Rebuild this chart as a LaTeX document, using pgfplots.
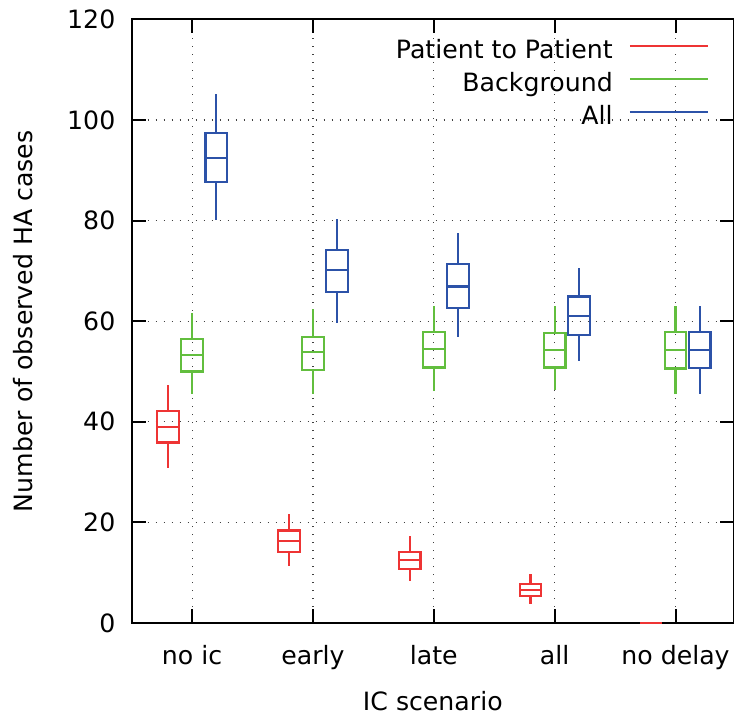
\documentclass[border=0pt]{standalone}
\usepackage{pgfplots}
\pgfplotsset{compat=1.18}
\usepgfplotslibrary{statistics}
\usepackage{fontspec}
\setmainfont{DejaVu Sans}

\definecolor{ptp}{RGB}{238,52,52}
\definecolor{bkg}{RGB}{98,190,62}
\definecolor{allc}{RGB}{44,82,168}

% one box: colour, x position, lower whisker, lower quartile, median, upper quartile, upper whisker
\newcommand{\bx}[7]{%
  \addplot+[#1, mark=none, line width=1.1pt, solid,
    boxplot prepared={draw position=#2,
      lower whisker=#3, lower quartile=#4, median=#5,
      upper quartile=#6, upper whisker=#7,
      box extend=0.18, whisker extend=0}] coordinates {};}

\begin{document}
\begin{tikzpicture}[font=\fontsize{12.6}{15}\selectfont]
\begin{axis}[
  at={(65.85pt,47.5pt)}, anchor=south west,
  boxplot/draw direction=y,
  scale only axis, width=301.15pt, height=301.8pt,
  xmin=-0.5, xmax=4.484, ymin=0, ymax=120,
  xtick={0,1,2,3,4},
  xticklabels={no ic, early, late, all, no delay},
  ytick={0,20,...,120},
  tick align=inside, major tick length=7pt,
  axis line style={line width=1pt},
  every tick/.style={black, line width=1pt},
  grid=major,
  major grid style={black!75, line width=0.6pt, dash pattern=on 0.6pt off 3.4pt},
  /pgf/number format/assume math mode=true,
  yticklabel style={anchor=east, inner sep=0pt, xshift=-8pt},
  xticklabel style={anchor=base, inner sep=0pt, yshift=-20.5pt},
  xlabel={IC scenario},
  ylabel={Number of observed HA cases},
  xlabel style={at={(axis description cs:0.5,0)}, anchor=base, inner sep=0pt, yshift=-43.5pt},
  ylabel style={at={(axis description cs:-0.181,0.5)}, anchor=center, rotate=0},
  legend style={draw=none, fill=none, at={(rel axis cs:0.969,0.974)}, anchor=north east,
    column sep=8pt, row sep=3.8pt,
    nodes={inner sep=0pt, text height=9.6pt, text depth=3pt}},
  legend cell align=right,
  legend plot pos=right,
  legend image code/.code={\draw[#1, line width=1.1pt] (0pt,3.0pt) -- (39pt,3.0pt);},
]
\addlegendimage{ptp}\addlegendentry{Patient to Patient}
\addlegendimage{bkg}\addlegendentry{Background}
\addlegendimage{allc}\addlegendentry{All}

% Patient to Patient
\bx{ptp}{-0.2}{30.9}{35.9}{39.0}{42.1}{47.4}
\bx{ptp}{0.8}{11.3}{14.1}{16.3}{18.4}{21.6}
\bx{ptp}{1.8}{8.3}{10.7}{12.5}{14.1}{17.2}
\bx{ptp}{2.8}{3.8}{5.3}{6.6}{7.7}{9.7}
% no delay: every value is zero, the box collapses to a flat line
\addplot[ptp, line width=1.1pt] coordinates {(3.71,0) (3.89,0)};
% Background
\bx{bkg}{0}{45.5}{50.0}{53.3}{56.5}{61.7}
\bx{bkg}{1}{45.6}{50.3}{53.8}{56.9}{62.5}
\bx{bkg}{2}{46.2}{50.8}{54.5}{57.9}{63.0}
\bx{bkg}{3}{46.3}{50.8}{54.3}{57.6}{63.0}
\bx{bkg}{4}{45.5}{50.6}{54.2}{57.9}{63.0}
% All
\bx{allc}{0.2}{80.1}{87.6}{92.4}{97.4}{105.1}
\bx{allc}{1.2}{59.7}{65.8}{70.1}{74.2}{80.3}
\bx{allc}{2.2}{56.9}{62.6}{66.9}{71.3}{77.5}
\bx{allc}{3.2}{52.1}{57.2}{61.1}{64.9}{70.6}
\bx{allc}{4.2}{45.5}{50.7}{54.2}{57.9}{63.0}
\end{axis}
\pgfresetboundingbox
\path[use as bounding box] (0,0) rectangle (367pt,359pt);
\end{tikzpicture}
\end{document}
